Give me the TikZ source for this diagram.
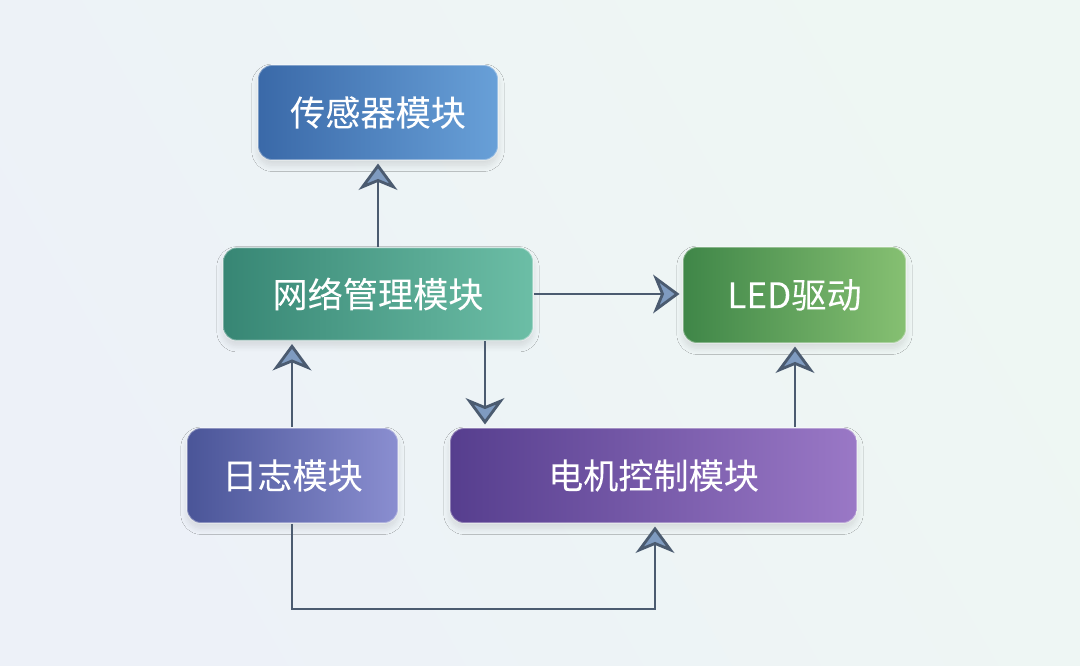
\documentclass[tikz,border=0pt]{standalone}
\usepackage{fontspec}
\setmainfont{Noto Sans CJK SC}[FakeBold=0.35]
\usetikzlibrary{arrows.meta,shadows.blur,calc}
\definecolor{bgA}{HTML}{EDF1F8}
\definecolor{bgB}{HTML}{EEF7F3}
\definecolor{linec}{HTML}{4B5B70}
\definecolor{tipfill}{HTML}{7F9BC0}
\definecolor{sensA}{HTML}{3A69A8}
\definecolor{sensB}{HTML}{68A0D8}
\definecolor{netA}{HTML}{378674}
\definecolor{netB}{HTML}{6CBEA6}
\definecolor{ledA}{HTML}{3F8648}
\definecolor{ledB}{HTML}{86C072}
\definecolor{logA}{HTML}{4A5598}
\definecolor{logB}{HTML}{8A8ED0}
\definecolor{motA}{HTML}{563E8E}
\definecolor{motB}{HTML}{9A78C6}
\tikzset{
  modbox/.style={rectangle, rounded corners=14*0.02cm, text=white,
    font=\fontsize{20}{24}\selectfont, inner sep=0pt,
    draw=white, draw opacity=0.35, line width=1pt,
    blur shadow={shadow blur steps=8, shadow xshift=0pt, shadow yshift=-3pt, shadow opacity=11, shadow blur radius=3.5pt}},
  arr/.style={draw=linec, line width=1.6pt,
    -{Stealth[length=15pt, width=22pt, inset=4.5pt, fill=tipfill]}, shorten >=1.5pt},
}
\begin{document}
\begin{tikzpicture}[x=0.02cm,y=-0.02cm]
\shade[left color=bgA, right color=bgB, shading angle=120] (0,0) rectangle (1080,666);
\useasboundingbox (0,0) rectangle (1080,666);
\node[modbox, minimum width=4.8cm, minimum height=1.9cm, left color=sensA, right color=sensB] (sens) at (378,112.5) {传感器模块};
\node[modbox, minimum width=6.2cm, minimum height=1.86cm, left color=netA, right color=netB] (net) at (378,294) {网络管理模块};
\node[modbox, minimum width=4.46cm, minimum height=1.92cm, left color=ledA, right color=ledB] (led) at (794.5,295) {LED驱动};
\node[modbox, minimum width=4.22cm, minimum height=1.9cm, left color=logA, right color=logB] (log) at (292.5,475.5) {日志模块};
\node[modbox, minimum width=8.14cm, minimum height=1.9cm, left color=motA, right color=motB] (mot) at (653.5,475.5) {电机控制模块};
\coordinate (cA) at (485,0);
\coordinate (cB) at (795,0);
\coordinate (cC) at (292,0);
\coordinate (cD) at (655,609);
\draw[arr] (net.north) -- (sens.south);
\draw[arr] (net.east) -- (led.west |- net.east);
\draw[arr] (net.south -| cA) -- (mot.north -| cA);
\draw[arr] (log.north -| cC) -- (net.south -| cC);
\draw[arr] (mot.north -| cB) -- (led.south -| cB);
\draw[arr] (log.south -| cC) |- (cD) -- (mot.south -| cD);
\end{tikzpicture}
\end{document}
